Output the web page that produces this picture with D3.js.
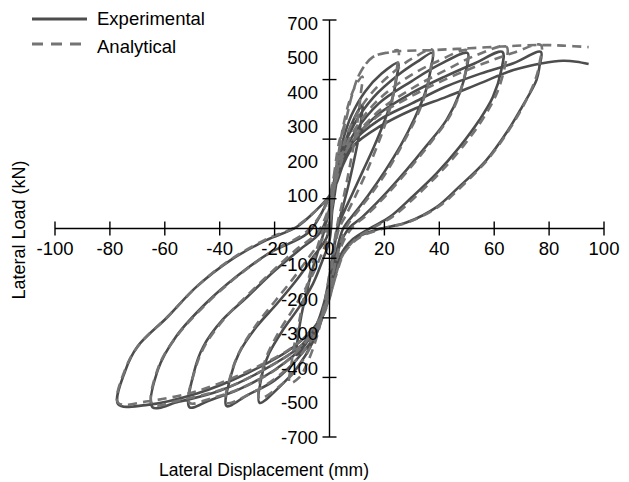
<!DOCTYPE html>
<html><head><meta charset="utf-8">
<script src="https://cdn.jsdelivr.net/npm/d3@7/dist/d3.min.js"></script>
<style>body{margin:0;background:#fff}text{font-family:"Liberation Sans",Arial,sans-serif;fill:#000}</style>
</head><body><svg id="c" width="629" height="482"></svg>
<script>
// ---- data ----
const xTicks = [-100,-80,-60,-40,-20,0,20,40,60,80,100];
const yTicks = [700,500,300,100,-100,-300,-500,-700];
const yTickLabels = ["700","500","400","300","200","100","0","-100","-200","-300","-400","-500","-700"];
const seriesNames = ["Experimental","Analytical"];

// Experimental cycles [displacement mm, load kN]
const expC0 = [[0,0],[1.5,90],[3,180],[5.5,280],[8.5,360],[12,415],[11.6,370],[10.5,300],[8.5,210],[6.5,130],[4.5,60],[2.8,0],[1.3,-80],[0,-160],[-2,-250],[-5,-330],[-8.5,-385],[-12,-425],[-11.4,-360],[-10.2,-290],[-8.5,-220],[-6.3,-140],[-4,-70],[-2,-10],[0,70]];
const expC1 = [[1.5,150],[3,230],[5,300],[8,380],[13,460],[19,520],[25,556],[24.5,510],[23,440],[20,360],[16,270],[12,190],[8,110],[5,50],[3,0],[1.5,-80],[0,-180],[-2,-280],[-6,-380],[-12,-470],[-18,-530],[-25.5,-585],[-24.3,-480],[-22,-419],[-17,-341],[-11,-263],[-6,-185],[-2.5,-106],[0,-40]];
const expC2 = [[1,60],[2.5,180],[5,270],[9,350],[16,440],[25,515],[32,560],[37.5,589],[37,540],[35,460],[31,370],[26,280],[20,190],[14,110],[9,50],[5,0],[3,-60],[1.5,-130],[0,-200],[-2,-280],[-6,-370],[-12,-440],[-20,-510],[-30,-560],[-37.5,-596],[-35.8,-490],[-33,-419],[-26.6,-330],[-19,-251],[-12,-173],[-6,-96],[-1,-29]];
const expC3 = [[0.5,50],[2.5,170],[5,250],[9,320],[18,420],[30,495],[40,550],[50.3,589],[50,540],[47.4,454],[42.6,364],[35,274],[28,196],[19.3,106],[12,39],[7,0],[4,-50],[2,-120],[0,-200],[-3,-300],[-9,-390],[-20,-475],[-33,-540],[-44,-578],[-51,-600],[-49.3,-480],[-46,-397],[-39,-307],[-30,-230],[-21,-150],[-11,-72],[-3.6,-16]];
const expC4 = [[-0.5,50],[2.5,165],[5,240],[9,300],[18,385],[30,455],[42,510],[53,555],[63,593],[62.6,532],[59.5,441],[54.6,364],[47.4,274],[39,185],[30,105],[22,39],[14.6,0],[8,-40],[4,-90],[1.5,-170],[0,-230],[-3,-300],[-10,-390],[-25,-480],[-40,-545],[-55,-582],[-64.5,-600],[-62.5,-474],[-56,-364],[-45,-251],[-34,-162],[-22,-83],[-8,-16],[-3,50]];
const expC5 = [[0,110],[2.5,160],[5,230],[8.5,290],[18,364],[30,420],[42,475],[55,520],[67,555],[77,593],[76.5,545],[75.4,498],[70,406],[65,329],[57,228],[47,138],[39,72],[28,20],[18,-2],[10,-30],[5,-80],[2,-160],[0,-230],[-3.6,-307],[-13,-397],[-30,-486],[-48,-553],[-67,-593],[-77,-590],[-74.5,-480],[-70,-397],[-59,-297],[-48.5,-196],[-36,-106],[-23,-39],[-12,5],[-5,60],[0,110]];
const expFinal = [[2.5,150],[5,215],[9,280],[18,341],[30,398],[42.6,442],[55,488],[67,532],[77.6,555],[85,563],[90,560],[94.4,552]];

// Analytical cycles
const anaC0 = [[0,0],[1,90],[2.5,200],[4.5,320],[7,420],[9.5,480],[12,510],[11.5,460],[10.5,380],[9,290],[7,190],[5,100],[3,20],[1.5,-60],[0,-150],[-2,-260],[-4.5,-360],[-8,-450],[-11,-500],[-14.5,-519],[-13.8,-450],[-12.8,-390],[-11,-310],[-9,-220],[-6.5,-130],[-4,-50],[-1.5,20],[0,80]];
const anaC1 = [[1.5,170],[3.5,290],[6,364],[8,441],[11,520],[15.7,575],[22,592],[25,598],[24.6,540],[23.5,460],[21,370],[17.5,280],[13.5,190],[9.5,110],[6,45],[3.5,0],[1.8,-70],[0.3,-160],[-2,-270],[-5.5,-370],[-11,-460],[-17,-520],[-25.5,-570],[-24.3,-470],[-22.5,-420],[-18,-340],[-12.5,-260],[-7.5,-180],[-3.5,-100],[-1,-40]];
const anaC2 = [[0.5,40],[2,150],[4.5,260],[8,350],[14,440],[22,515],[30,570],[37.5,600],[37,545],[35.5,470],[32,380],[27,290],[21.5,200],[15.5,120],[10.5,60],[6.5,10],[4,-50],[2,-120],[0.3,-200],[-2,-280],[-6,-365],[-12,-440],[-20,-505],[-29,-555],[-37.5,-585],[-35.6,-480],[-32,-400],[-26,-315],[-19.5,-240],[-13,-165],[-7,-90],[-2,-25]];
const anaC3 = [[0,50],[2,160],[4.5,245],[9,330],[17,425],[28,505],[39,560],[50.3,598],[50,550],[48,470],[44,380],[37,290],[30,210],[21,115],[13.5,45],[8,0],[4.5,-55],[2,-125],[0,-200],[-3,-300],[-9,-385],[-19,-470],[-32,-535],[-43,-570],[-51,-585],[-49,-475],[-45.5,-395],[-38.5,-305],[-30,-225],[-21,-145],[-12,-70],[-4.5,-15]];
const anaC4 = [[-1,50],[2,160],[4.5,235],[9,305],[18,395],[30,470],[42,530],[53,580],[64.5,610],[64,550],[61,455],[56,370],[49,280],[40.5,190],[31.5,108],[23,40],[15.5,0],[9,-40],[4.5,-95],[1.8,-175],[0,-235],[-3,-305],[-10,-390],[-24,-475],[-39,-540],[-54,-575],[-64.5,-590],[-62.3,-465],[-55.5,-360],[-44.5,-250],[-33.5,-160],[-21.5,-80],[-8.5,-12],[-3,50]];
const anaC5 = [[0,105],[2.5,165],[5,240],[9,300],[18,380],[30,445],[42,500],[55,550],[67,590],[77,616],[76.6,560],[75,500],[70.5,410],[65,325],[57.5,230],[48,140],[40,75],[29,22],[19,-2],[11,-30],[5.5,-80],[2.3,-160],[0,-230],[-3.6,-305],[-13,-395],[-30,-480],[-48,-545],[-66,-580],[-77,-585],[-74.3,-470],[-69.5,-392],[-58.5,-292],[-48,-192],[-36,-104],[-23.5,-38],[-12.5,5],[-5,60],[0,110]];
const anaFinal = [[1,150],[3.5,260],[6,364],[8,441],[11,520],[15.7,575],[22,592],[37.5,599],[51,605],[64.5,612],[77,616],[85,614],[94.4,609]];

const experimental = [].concat(expC0,expC1,expC2,expC3,expC4,expC5,expFinal);
const analytical = [].concat(anaC0,anaC1,anaC2,anaC3,anaC4,anaC5,anaFinal);

// ---- drawing ----
const svg = d3.select("#c");
const x = d3.scaleLinear().domain([-100,100]).range([55,604]);
const y = d3.scaleLinear().domain([-700,700]).range([437,20]);
const yLab = d3.scalePoint().domain(yTickLabels).range([23,437]);

const line = d3.line().x(d=>x(d[0])).y(d=>y(d[1])).curve(d3.curveCatmullRom.alpha(0.5));

svg.append("path").datum(experimental).attr("d",line)
  .attr("fill","none").attr("stroke","#4d4d4d").attr("stroke-width",2.6).attr("stroke-linejoin","round");
svg.append("path").datum(analytical).attr("d",line)
  .attr("fill","none").attr("stroke","#747474").attr("stroke-width",2.6).attr("stroke-dasharray","9,6");

// axes
const ax = svg.append("g").attr("stroke","#000").attr("stroke-width",1.4);
ax.append("line").attr("x1",x(-100)).attr("x2",x(100)).attr("y1",y(0)).attr("y2",y(0));
ax.append("line").attr("x1",x(0)).attr("x2",x(0)).attr("y1",y(700)).attr("y2",y(-700));
ax.selectAll(".xt").data(xTicks).join("line").attr("x1",d=>x(d)).attr("x2",d=>x(d)).attr("y1",y(0)-7).attr("y2",y(0)+7);
ax.selectAll(".yt").data(yTicks).join("line").attr("x1",x(0)-7).attr("x2",x(0)+7).attr("y1",d=>y(d)).attr("y2",d=>y(d));

svg.selectAll(".xl").data(xTicks).join("text").attr("x",d=>x(d)).attr("y",y(0)+26.5)
  .attr("text-anchor","middle").attr("font-size",18.5).text(d=>d);
svg.selectAll(".yl").data(yTickLabels).join("text").attr("x",318).attr("y",d=>yLab(d)).attr("dy","0.36em")
  .attr("text-anchor","end").attr("font-size",18.5).text(d=>d);

svg.append("text").attr("x",264).attr("y",476).attr("text-anchor","middle").attr("font-size",17.5).text("Lateral Displacement (mm)");
svg.append("text").attr("transform","translate(25,230) rotate(-90)").attr("text-anchor","middle").attr("font-size",18).text("Lateral Load (kN)");

// legend
const lg = svg.append("g");
lg.append("line").attr("x1",32).attr("x2",87).attr("y1",19).attr("y2",19).attr("stroke","#4d4d4d").attr("stroke-width",3);
lg.append("line").attr("x1",32).attr("x2",87).attr("y1",44).attr("y2",44).attr("stroke","#747474").attr("stroke-width",3).attr("stroke-dasharray","11,8");
lg.append("text").attr("x",97).attr("y",25).attr("font-size",18.5).text(seriesNames[0]);
lg.append("text").attr("x",97).attr("y",52.5).attr("font-size",18.5).text(seriesNames[1]);
</script></body></html>
